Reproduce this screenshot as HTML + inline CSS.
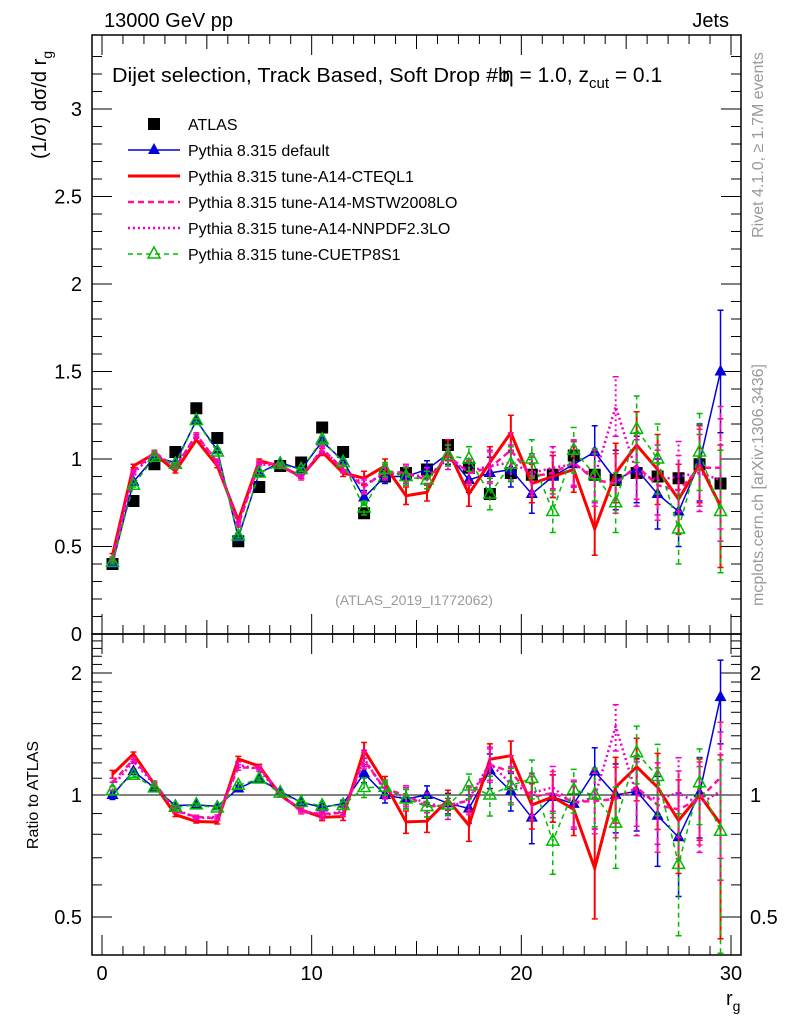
<!DOCTYPE html>
<html><head><meta charset="utf-8"><style>
body{margin:0;background:#fff;width:786px;height:1024px;overflow:hidden}
svg{font-family:"Liberation Sans",sans-serif}
</style></head><body>
<svg id="c" width="786" height="1024"></svg>
<script>
const bins=[0.5,1.5,2.5,3.5,4.5,5.5,6.5,7.5,8.5,9.5,10.5,11.5,12.5,13.5,14.5,15.5,16.5,17.5,18.5,19.5,20.5,21.5,22.5,23.5,24.5,25.5,26.5,27.5,28.5,29.5];
const atlas=[0.40,0.76,0.97,1.04,1.29,1.12,0.53,0.84,0.96,0.98,1.18,1.04,0.69,0.90,0.92,0.94,1.08,0.95,0.80,0.92,0.91,0.91,1.02,0.91,0.88,0.92,0.90,0.89,0.97,0.86];
const pyDefault=[0.40,0.87,1.01,0.98,1.22,1.05,0.55,0.92,0.98,0.94,1.10,0.99,0.78,0.90,0.90,0.94,1.03,0.88,0.92,0.94,0.80,0.90,0.97,1.04,0.88,0.94,0.80,0.70,0.98,1.50];
const pyCTEQ=[0.45,0.96,1.03,0.93,1.11,0.96,0.65,0.99,0.96,0.90,1.04,0.92,0.89,0.96,0.79,0.81,1.05,0.80,0.98,1.15,0.86,0.90,0.94,0.60,0.92,1.08,0.94,0.77,0.97,0.73];
const pyMSTW=[0.43,0.93,1.04,0.95,1.14,0.98,0.62,0.98,0.97,0.89,1.06,0.94,0.84,0.93,0.92,0.88,1.02,0.92,0.95,1.05,0.90,0.92,0.98,0.88,0.86,0.96,0.85,0.82,0.95,0.95];
const pyNNPDF=[0.42,0.92,1.03,0.96,1.13,0.99,0.63,0.97,0.96,0.90,1.05,0.95,0.85,0.92,0.91,0.90,1.00,0.93,0.96,0.98,0.92,0.95,0.97,0.90,1.30,0.92,0.88,0.90,0.92,0.88];
const pyCUETP=[0.41,0.85,1.01,0.97,1.22,1.04,0.56,0.92,0.97,0.94,1.11,0.98,0.72,0.94,0.90,0.88,1.02,1.00,0.80,0.97,1.00,0.70,1.05,0.91,0.75,1.17,1.00,0.60,1.04,0.70];
const mcErr=[0.01,0.01,0.01,0.01,0.01,0.01,0.01,0.01,0.01,0.01,0.02,0.02,0.04,0.04,0.05,0.05,0.06,0.07,0.09,0.10,0.11,0.12,0.13,0.15,0.17,0.19,0.20,0.20,0.22,0.35];
const mainTicks=[0,0.5,1,1.5,2,2.5,3];
const mainTickLabels=["0","0.5","1","1.5","2","2.5","3"];
const ratioTicks=[0.5,1,2];
const ratioTickLabels=["0.5","1","2"];
const xTicks=[0,10,20,30];

const NS="http://www.w3.org/2000/svg";
const svg=document.getElementById('c');
const L=92,R=741,T=35,M=634,B=955;
const sx=v=>102+v*(731-102)/30;
const sy=v=>634-v*175;
const ry=v=>795-Math.log(v)*176;
function el(tag,attrs,parent,txt){const e=document.createElementNS(NS,tag);for(const k in attrs)e.setAttribute(k,attrs[k]);if(txt!==undefined)e.textContent=txt;(parent||svg).appendChild(e);return e;}
function clip(id,y0,y1){const cp=el('clipPath',{id:id});el('rect',{x:L,y:y0,width:R-L,height:y1-y0},cp);}
clip('cm',T,M);clip('cr',M,B);

const f1=el('rect',{x:L,y:T,width:R-L,height:M-T,fill:'none',stroke:'#000','stroke-width':1.5});

const f2=el('rect',{x:L,y:M,width:R-L,height:B-M,fill:'none',stroke:'#000','stroke-width':1.5});


for(let v=0;v<=3.4;v+=0.1){const y=sy(v);if(y<T)break;const major=Math.abs(v*2-Math.round(v*2))<1e-6;const len=major?20:10;
 el('line',{x1:L,x2:L+len,y1:y,y2:y,stroke:'#000'});el('line',{x1:R,x2:R-len,y1:y,y2:y,stroke:'#000'});}
mainTicks.forEach((v,i)=>{const t=el('text',{x:82,y:sy(v)+7,'text-anchor':'end','font-size':20},svg,mainTickLabels[i]);
 });
for(let v=0.4;v<=2.5;v+=0.1){const y=ry(v);if(y<M||y>B)continue;const major=ratioTicks.some(t=>Math.abs(t-v)<1e-6);const len=major?20:10;
 el('line',{x1:L,x2:L+len,y1:y,y2:y,stroke:'#000'});el('line',{x1:R,x2:R-len,y1:y,y2:y,stroke:'#000'});}
ratioTicks.forEach((v,i)=>{const t=el('text',{x:82,y:ry(v)+7,'text-anchor':'end','font-size':20},svg,ratioTickLabels[i]);
 
 const t2=el('text',{x:750,y:ry(v)+7,'font-size':20},svg,ratioTickLabels[i]);
 });
el('line',{x1:L,x2:R,y1:ry(1),y2:ry(1),stroke:'#000'});
for(let v=0;v<=30;v+=1){const x=sx(v);const major=v%5==0;const big=v%10==0;const len=big?20:(major?14:9);
 [[T,1],[M,-1],[M,1],[B,-1]].forEach(([y,d])=>el('line',{x1:x,x2:x,y1:y,y2:y+d*len,stroke:'#000'}));}
xTicks.forEach(v=>{const t=el('text',{x:sx(v),y:980,'text-anchor':'middle','font-size':20},svg,String(v));
 });

const series=[
 {name:'pythia-default',d:pyDefault,c:'#0000dd',w:1.5,dash:'',m:'tri'},
 {name:'pythia-cteql1',d:pyCTEQ,c:'#ff0000',w:3,dash:'',m:''},
 {name:'pythia-mstw2008lo',d:pyMSTW,c:'#ff1493',w:2.5,dash:'6,4',m:''},
 {name:'pythia-nnpdf',d:pyNNPDF,c:'#ee00cc',w:2.5,dash:'2,3',m:''},
 {name:'pythia-cuetp8s1',d:pyCUETP,c:'#00bb00',w:1.5,dash:'5,4',m:'otri'}];
function marker(g,m,x,y,c){if(m==='tri')el('path',{d:`M${x},${y-7}L${x+6},${y+4}L${x-6},${y+4}Z`,fill:c},g);
 if(m==='otri')el('path',{d:`M${x},${y-7}L${x+6},${y+4}L${x-6},${y+4}Z`,fill:'none',stroke:c,'stroke-width':1.5},g);}
function drawPanel(yf,cp,ratio,tag){
 series.forEach(s=>{const g=el('g',{'clip-path':`url(#${cp})`});
  
  const val=i=>ratio?s.d[i]/atlas[i]:s.d[i];const er=i=>ratio?mcErr[i]/atlas[i]:mcErr[i];
  bins.forEach((b,i)=>{const x=sx(b);const lo=yf(Math.max(val(i)-er(i),0.3)),hi=yf(val(i)+er(i));
   el('line',{x1:x,x2:x,y1:lo,y2:hi,stroke:s.c,'stroke-width':s.w>2?2:1.5,'stroke-dasharray':s.dash},g);
   el('line',{x1:x-3,x2:x+3,y1:lo,y2:lo,stroke:s.c,'stroke-width':1.5},g);el('line',{x1:x-3,x2:x+3,y1:hi,y2:hi,stroke:s.c,'stroke-width':1.5},g);});
  el('polyline',{points:bins.map((b,i)=>sx(b)+','+yf(val(i))).join(' '),fill:'none',stroke:s.c,'stroke-width':s.w,'stroke-dasharray':s.dash},g);
  bins.forEach((b,i)=>marker(g,s.m,sx(b),yf(val(i)),s.c));
 });
}
const dg=el('g',{'clip-path':'url(#cm)'});
bins.forEach((b,i)=>el('rect',{x:sx(b)-6,y:sy(atlas[i])-6,width:12,height:12,fill:'#000'},dg));
drawPanel(sy,'cm',false,'main');
drawPanel(ry,'cr',true,'ratio');

function txt(name,a,s){const t=el('text',a,svg,s);return t;}
txt('collision-title',{x:104,y:27,'font-size':20},'13000 GeV pp');
txt('jets-label',{x:729,y:27,'font-size':20,'text-anchor':'end'},'Jets');
txt('selection-caption',{x:112,y:82,'font-size':20,textLength:398,lengthAdjust:'spacingAndGlyphs'},'Dijet selection, Track Based, Soft Drop #b');
const cap2=txt('selection-caption-b',{x:502,y:82,'font-size':21},'η = 1.0, z');
el('tspan',{'font-size':15,dy:6},cap2,'cut');el('tspan',{dy:-6},cap2,' = 0.1');
txt('ref-label',{x:414,y:605,'font-size':14,fill:'#999','text-anchor':'middle'},'(ATLAS_2019_I1772062)');
const yl=txt('y-axis-title',{transform:'translate(46,105) rotate(-90)','font-size':20,'text-anchor':'middle'},'(1/σ) dσ/d r');
el('tspan',{'font-size':14,dy:6},yl,'g');
txt('ratio-y-axis-title',{transform:'translate(38,795) rotate(-90)','font-size':16,'text-anchor':'middle'},'Ratio to ATLAS');
const xl=txt('x-axis-title',{x:726,y:1005,'font-size':20},'r');el('tspan',{'font-size':14,dy:6},xl,'g');
txt('rivet-label',{transform:'translate(763,145) rotate(-90)','font-size':16,fill:'#999','text-anchor':'middle'},'Rivet 4.1.0, ≥ 1.7M events');
txt('mcplots-label',{transform:'translate(763,485) rotate(-90)','font-size':16,fill:'#999','text-anchor':'middle'},'mcplots.cern.ch [arXiv:1306.3436]');

const lg=el('g',{});
const labels=['ATLAS','Pythia 8.315 default','Pythia 8.315 tune-A14-CTEQL1','Pythia 8.315 tune-A14-MSTW2008LO','Pythia 8.315 tune-A14-NNPDF2.3LO','Pythia 8.315 tune-CUETP8S1'];
labels.forEach((lab,i)=>{const y=124+i*26;const e=el('g',{},lg);
 if(i===0)el('rect',{x:148,y:y-6,width:12,height:12,fill:'#000'},e);
 else{const s=series[i-1];el('line',{x1:128,x2:180,y1:y,y2:y,stroke:s.c,'stroke-width':s.w,'stroke-dasharray':s.dash},e);marker(e,s.m,154,y,s.c);}
 el('text',{x:188,y:y+6,'font-size':16},e,lab);});
</script>
</body></html>
